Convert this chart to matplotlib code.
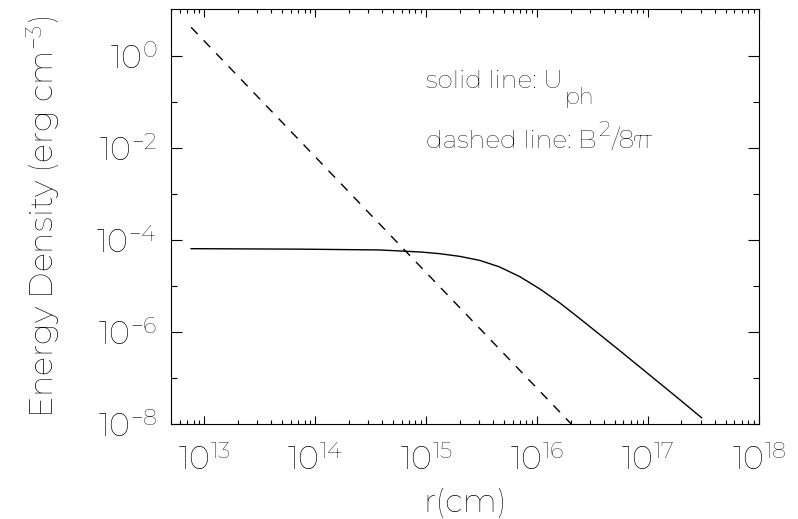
import matplotlib
matplotlib.use('Agg')
import matplotlib.pyplot as plt
from matplotlib.ticker import FixedLocator, NullFormatter

fam = ['Montserrat', 'Open Sans', 'DejaVu Sans']
plt.rcParams['font.family'] = fam
plt.rcParams['font.weight'] = 'light'
plt.rcParams['axes.labelweight'] = 'light'
plt.rcParams['mathtext.fontset'] = 'custom'
plt.rcParams['mathtext.rm'] = 'Montserrat:light'
plt.rcParams['mathtext.it'] = 'Montserrat:light'
plt.rcParams['mathtext.sf'] = 'Montserrat:light'

# U_ph (solid)
r_ph = [7.59e12, 7.19e13, 3.79e14, 8.71e14, 1.32e15, 2.00e15, 3.03e15,
        4.59e15, 6.97e15, 1.05e16, 1.60e16, 2.42e16, 3.67e16, 5.56e16,
        9.04e16, 1.81e17, 3.04e17]
u_ph = [6.50e-5, 6.35e-5, 6.10e-5, 5.52e-5, 5.07e-5, 4.43e-5, 3.63e-5,
        2.61e-5, 1.61e-5, 8.81e-6, 4.33e-6, 1.99e-6, 8.91e-7, 3.99e-7,
        1.54e-7, 3.93e-8, 1.40e-8]

# B^2/8pi (dashed)
r_b = [7.59e12, 2.05e16]
u_b = [4.11, 1.0e-8]

xmajor = [1e13, 1e14, 1e15, 1e16, 1e17, 1e18]
xlabels = ['$10^{13}$', '$10^{14}$', '$10^{15}$', '$10^{16}$', '$10^{17}$', '$10^{18}$']
ymajor = [1e-8, 1e-6, 1e-4, 1e-2, 1e0]
ylabels = ['$10^{-8}$', '$10^{-6}$', '$10^{-4}$', '$10^{-2}$', '$10^{0}$']
yminor = [1e-7, 1e-5, 1e-3, 1e-1]

txt = 'black'

fig = plt.figure(figsize=(7.98, 5.19), dpi=100)
ax = fig.add_axes([0.2143, 0.1821, 0.7368, 0.7996])

ax.plot(r_ph, u_ph, color='black', lw=1.0)
ax.plot(r_b, u_b, color='black', lw=1.0, dashes=(6.8, 6.2))

ax.set_xscale('log')
ax.set_yscale('log')
ax.set_xlim(5e12, 1e18)
ax.set_ylim(1e-8, 10)

ax.xaxis.set_major_locator(FixedLocator(xmajor))
ax.set_xticklabels(xlabels)
xminor = [k * 10.0**n for n in range(12, 18) for k in range(2, 10)]
ax.xaxis.set_minor_locator(FixedLocator(xminor))
ax.xaxis.set_minor_formatter(NullFormatter())

ax.yaxis.set_major_locator(FixedLocator(ymajor))
ax.set_yticklabels(ylabels)
ax.yaxis.set_minor_locator(FixedLocator(yminor))
ax.yaxis.set_minor_formatter(NullFormatter())

ax.tick_params(axis='both', which='both', direction='in', top=True, right=True,
               color='black', width=0.8, labelcolor=txt, labelsize=23)
ax.tick_params(axis='x', which='major', length=6, pad=14)
ax.tick_params(axis='x', which='minor', length=3)
ax.tick_params(axis='y', which='major', length=8, pad=10)
ax.tick_params(axis='y', which='minor', length=4)

for s in ax.spines.values():
    s.set_linewidth(0.8)
    s.set_color('black')

ax.set_xlabel('r(cm)', fontsize=23, color=txt)
ax.set_ylabel('Energy Density (erg cm$^{-3}$)', fontsize=23, color=txt)
ax.xaxis.set_label_coords(0.5, -0.153)
ax.yaxis.set_label_coords(-0.185, 0.5)

# annotation, built from pieces so the sub/superscripts sit like the original
t1 = ax.text(1.0e15, 0.2, 'solid line: U', fontsize=18, color=txt,
             va='baseline', ha='left')
ax.annotate('ph', xy=(1, 0), xycoords=t1, xytext=(1, -8),
            textcoords='offset points', fontsize=16, color=txt, va='baseline')

t2 = ax.text(1.0e15, 0.01, 'dashed line: B', fontsize=18, color=txt,
             va='baseline', ha='left')
t2s = ax.annotate('2', xy=(1, 0), xycoords=t2, xytext=(1, 12),
                  textcoords='offset points', fontsize=15, color=txt,
                  va='baseline')
ax.annotate('/8π', xy=(1, 0), xycoords=(t2s, t2), xytext=(1, 0),
            textcoords='offset points', fontsize=18, color=txt, va='bottom')

fig.savefig('out.png', dpi=100)
